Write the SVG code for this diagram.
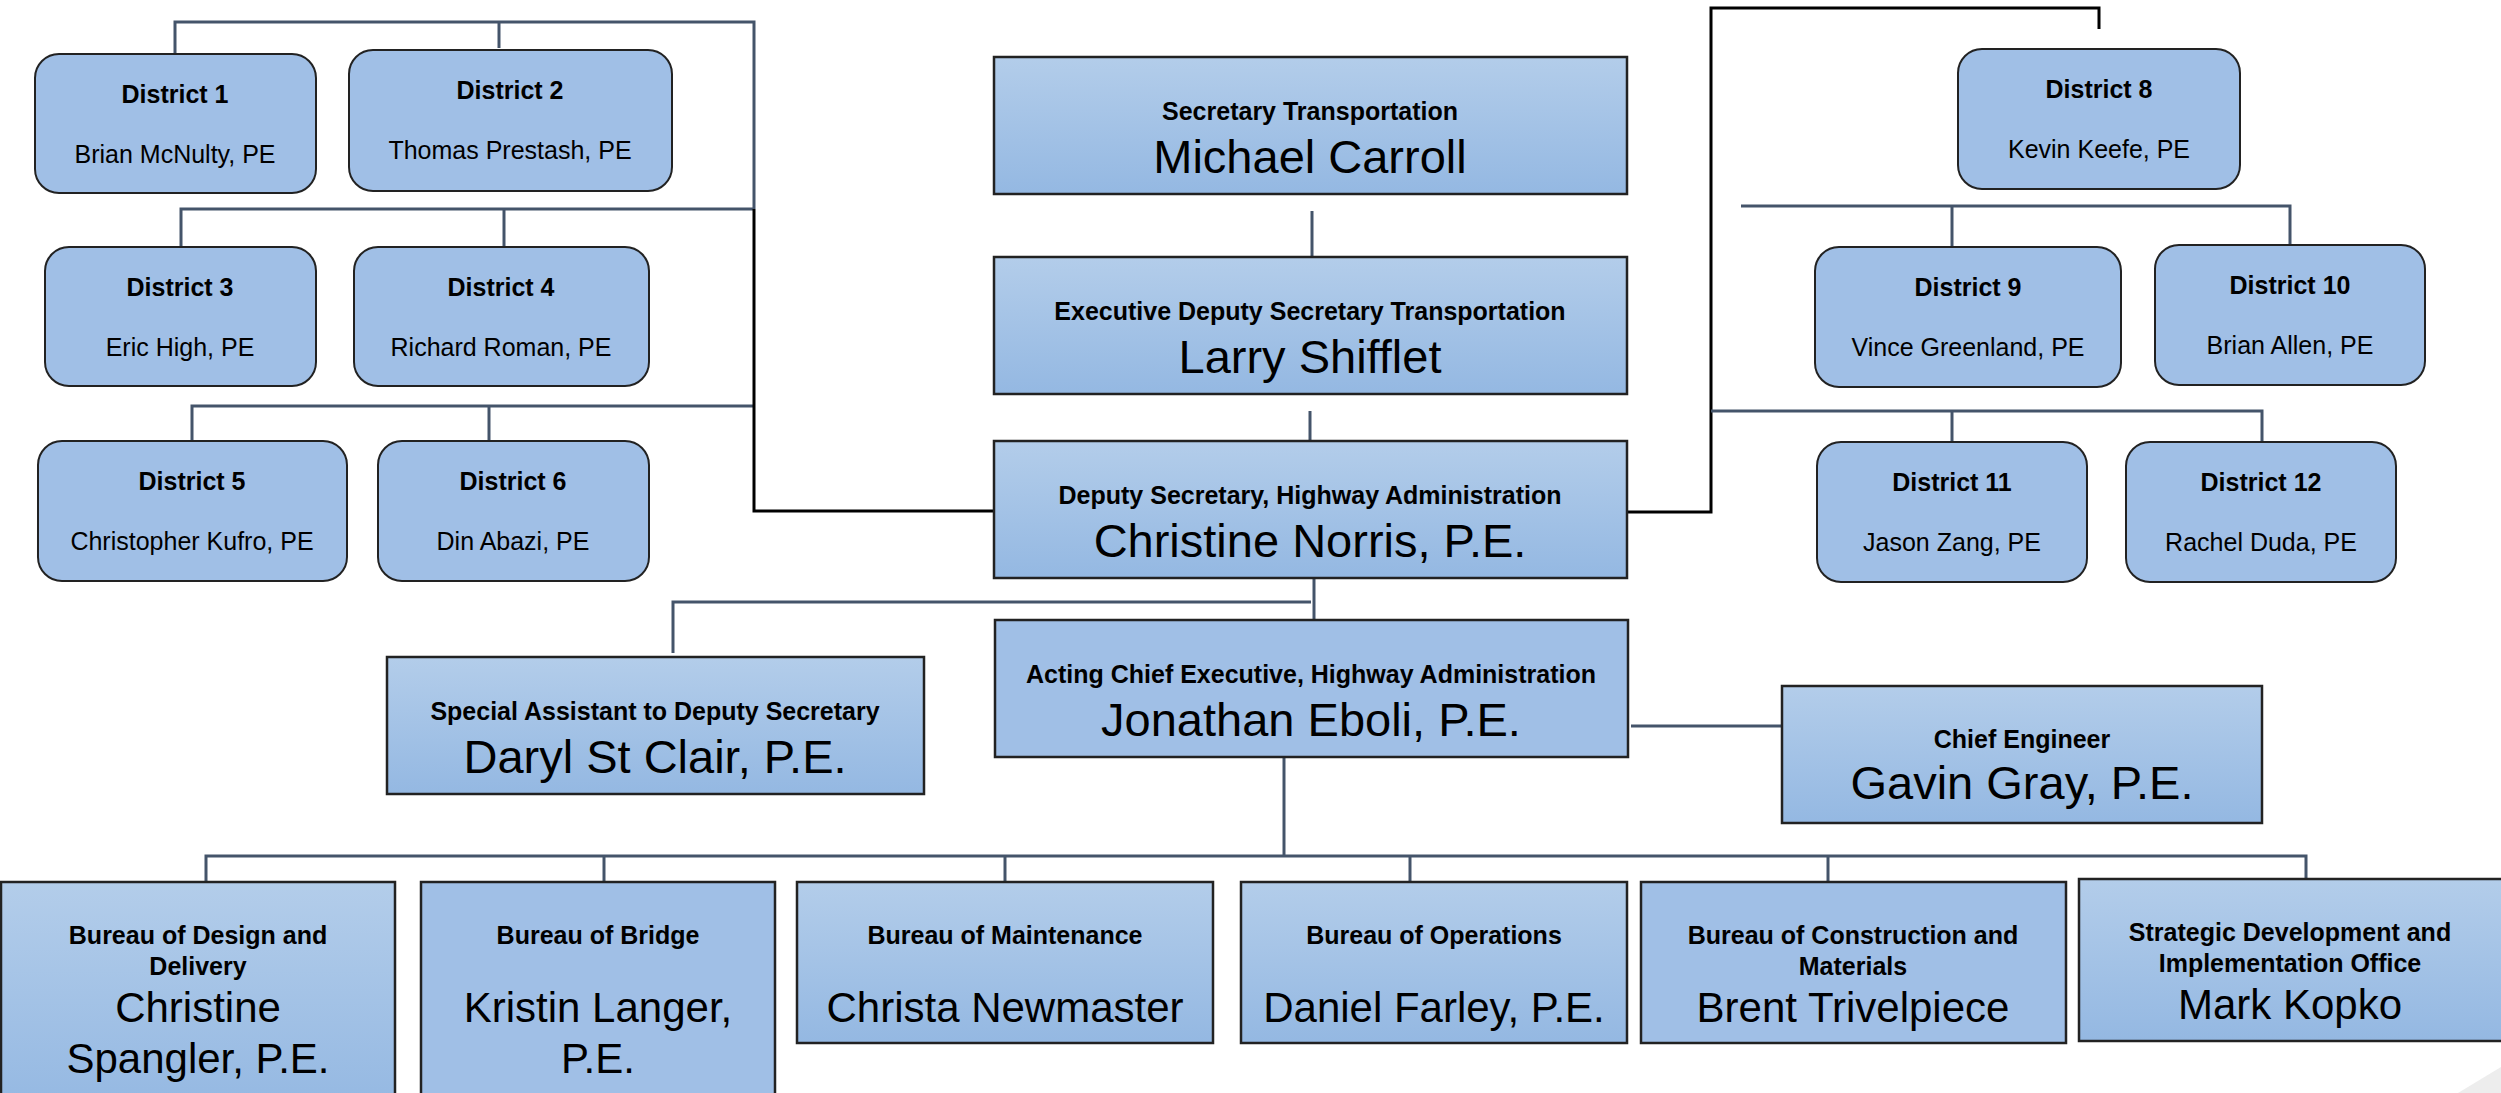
<svg xmlns="http://www.w3.org/2000/svg" width="2501" height="1093" viewBox="0 0 2501 1093">
<defs>
<linearGradient id="g" x1="0" y1="0" x2="0" y2="1">
<stop offset="0" stop-color="#B3CDEA"/>
<stop offset="1" stop-color="#94B8E2"/>
</linearGradient>
<style>
.d{fill:#A0BFE6;stroke:#222;stroke-width:2}
.b{fill:url(#g);stroke:#222;stroke-width:2.5}
.f{fill:#A0BFE6;stroke:#222;stroke-width:2.5}
.c{fill:none;stroke:#44546A;stroke-width:3}
.k{fill:none;stroke:#000;stroke-width:3}
text{font-family:"Liberation Sans",Arial,sans-serif;fill:#000;text-anchor:middle}
.t{font-size:25px;font-weight:bold}
.n{font-size:25px}
.L{font-size:47px}
.M{font-size:42px}
</style>
</defs>
<rect width="2501" height="1093" fill="#fff"/>
<polygon points="2458,1093 2501,1067 2501,1093" fill="#EDEDED"/>
<g id="connectors">
<path class="c" d="M175,54 V22 H754 V209"/>
<path class="c" d="M499,22 V48"/>
<path class="c" d="M181,247 V209 H754"/>
<path class="c" d="M504,209 V247"/>
<path class="c" d="M192,441 V406 H754"/>
<path class="c" d="M489,406 V441"/>
<path class="k" d="M754,209 V511 H994"/>
<path class="k" d="M1627,512 H1711 V8 H2099 V29"/>
<path class="c" d="M1741,206 H2290 V246"/>
<path class="c" d="M1952,206 V247"/>
<path class="c" d="M1711,411 H2262 V442"/>
<path class="c" d="M1952,411 V442"/>
<path class="c" d="M1312,211 V257"/>
<path class="c" d="M1310,411 V457"/>
<path class="c" d="M1314,578 V620"/>
<path class="c" d="M1311,602 H673 V653"/>
<path class="c" d="M1631,726 H1782"/>
<path class="c" d="M1284,758 V856"/>
<path class="c" d="M206,882 V856 H2306 V879"/>
<path class="c" d="M604,856 V882"/>
<path class="c" d="M1005,856 V882"/>
<path class="c" d="M1410,856 V882"/>
<path class="c" d="M1828,856 V882"/>
</g>
<g id="district1"><rect class="d" x="35" y="54" width="281" height="139" rx="24"/><text class="t" x="175" y="103">District 1</text><text class="n" x="175" y="163">Brian McNulty, PE</text></g>
<g id="district2"><rect class="d" x="349" y="50" width="323" height="141" rx="24"/><text class="t" x="510" y="99">District 2</text><text class="n" x="510" y="159">Thomas Prestash, PE</text></g>
<g id="district3"><rect class="d" x="45" y="247" width="271" height="139" rx="24"/><text class="t" x="180" y="296">District 3</text><text class="n" x="180" y="356">Eric High, PE</text></g>
<g id="district4"><rect class="d" x="354" y="247" width="295" height="139" rx="24"/><text class="t" x="501" y="296">District 4</text><text class="n" x="501" y="356">Richard Roman, PE</text></g>
<g id="district5"><rect class="d" x="38" y="441" width="309" height="140" rx="24"/><text class="t" x="192" y="490">District 5</text><text class="n" x="192" y="550">Christopher Kufro, PE</text></g>
<g id="district6"><rect class="d" x="378" y="441" width="271" height="140" rx="24"/><text class="t" x="513" y="490">District 6</text><text class="n" x="513" y="550">Din Abazi, PE</text></g>
<g id="district8"><rect class="d" x="1958" y="49" width="282" height="140" rx="24"/><text class="t" x="2099" y="98">District 8</text><text class="n" x="2099" y="158">Kevin Keefe, PE</text></g>
<g id="district9"><rect class="d" x="1815" y="247" width="306" height="140" rx="24"/><text class="t" x="1968" y="296">District 9</text><text class="n" x="1968" y="356">Vince Greenland, PE</text></g>
<g id="district10"><rect class="d" x="2155" y="245" width="270" height="140" rx="24"/><text class="t" x="2290" y="294">District 10</text><text class="n" x="2290" y="354">Brian Allen, PE</text></g>
<g id="district11"><rect class="d" x="1817" y="442" width="270" height="140" rx="24"/><text class="t" x="1952" y="491">District 11</text><text class="n" x="1952" y="551">Jason Zang, PE</text></g>
<g id="district12"><rect class="d" x="2126" y="442" width="270" height="140" rx="24"/><text class="t" x="2261" y="491">District 12</text><text class="n" x="2261" y="551">Rachel Duda, PE</text></g>
<g id="secretary"><rect class="b" x="994" y="57" width="633" height="137"/><text class="t" x="1310" y="120">Secretary Transportation</text><text class="L" x="1310" y="173">Michael Carroll</text></g>
<g id="exec-deputy"><rect class="b" x="994" y="257" width="633" height="137"/><text class="t" x="1310" y="320">Executive Deputy Secretary Transportation</text><text class="L" x="1310" y="373">Larry Shifflet</text></g>
<g id="deputy"><rect class="b" x="994" y="441" width="633" height="137"/><text class="t" x="1310" y="504">Deputy Secretary, Highway Administration</text><text class="L" x="1310" y="557">Christine Norris, P.E.</text></g>
<g id="acting-chief"><rect class="f" x="995" y="620" width="633" height="137"/><text class="t" x="1311" y="683">Acting Chief Executive, Highway Administration</text><text class="L" x="1311" y="736">Jonathan Eboli, P.E.</text></g>
<g id="special-assistant"><rect class="b" x="387" y="657" width="537" height="137"/><text class="t" x="655" y="720">Special Assistant to Deputy Secretary</text><text class="L" x="655" y="773">Daryl St Clair, P.E.</text></g>
<g id="chief-engineer"><rect class="b" x="1782" y="686" width="480" height="137"/><text class="t" x="2022" y="748">Chief Engineer</text><text class="L" x="2022" y="799">Gavin Gray, P.E.</text></g>
<g id="bureau-design"><rect class="b" x="1" y="882" width="394" height="230"/><text class="t" x="198" y="944">Bureau of Design and</text><text class="t" x="198" y="975">Delivery</text><text class="M" x="198" y="1022">Christine</text><text class="M" x="198" y="1073">Spangler, P.E.</text></g>
<g id="bureau-bridge"><rect class="f" x="421" y="882" width="354" height="230"/><text class="t" x="598" y="944">Bureau of Bridge</text><text class="M" x="598" y="1022">Kristin Langer,</text><text class="M" x="598" y="1073">P.E.</text></g>
<g id="bureau-maintenance"><rect class="b" x="797" y="882" width="416" height="161"/><text class="t" x="1005" y="944">Bureau of Maintenance</text><text class="M" x="1005" y="1022">Christa Newmaster</text></g>
<g id="bureau-operations"><rect class="b" x="1241" y="882" width="386" height="161"/><text class="t" x="1434" y="944">Bureau of Operations</text><text class="M" x="1434" y="1022">Daniel Farley, P.E.</text></g>
<g id="bureau-construction"><rect class="f" x="1641" y="882" width="425" height="161"/><text class="t" x="1853" y="944">Bureau of Construction and</text><text class="t" x="1853" y="975">Materials</text><text class="M" x="1853" y="1022">Brent Trivelpiece</text></g>
<g id="strategic-office"><rect class="b" x="2079" y="879" width="440" height="162"/><text class="t" x="2290" y="941">Strategic Development and</text><text class="t" x="2290" y="972">Implementation Office</text><text class="M" x="2290" y="1019">Mark Kopko</text></g>
</svg>
